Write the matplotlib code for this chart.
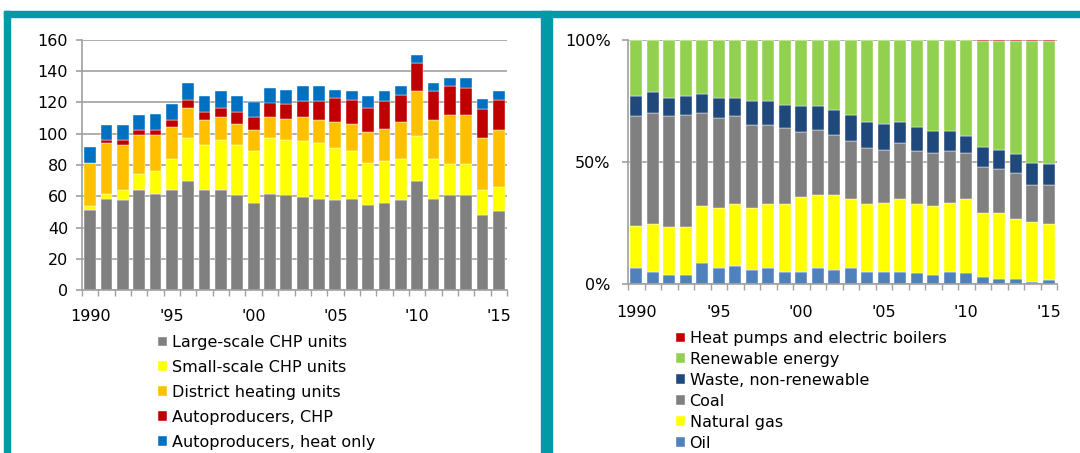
import numpy as np
import matplotlib.pyplot as plt
from matplotlib.patches import Rectangle

# years and tick labels
years = list(range(1990, 2016))
tick_pos = [0, 5, 10, 15, 20, 25]
tick_lab = ['1990', "'95", "'00", "'05", "'10", "'15"]

# left chart, values per source
large_chp = [51.3, 58.4, 57.3, 63.7, 61.6, 63.7, 69.9, 63.7, 63.7, 60.5, 55.4, 61.6, 60.5,
             59.5, 58.4, 57.3, 58.4, 54.3, 55.4, 57.3, 69.9, 58.4, 60.5, 60.5, 48.1, 50.3]
small_chp = [2.4, 3.2, 6.4, 10.3, 14.5, 19.9, 27.4, 29.3, 32.6, 32.5, 33.4, 35.7, 35.8,
             35.7, 35.7, 33.6, 30.4, 27.2, 27.2, 26.3, 28.5, 25.2, 19.9, 19.9, 15.6, 15.6]
district = [27.6, 32.5, 29.3, 25.0, 22.9, 20.8, 19.5, 15.7, 14.3, 13.3, 13.7, 13.3, 13.2,
            15.4, 14.6, 16.7, 17.5, 19.7, 20.7, 24.0, 28.9, 25.1, 31.3, 31.3, 33.4, 36.6]
auto_chp = [0.3, 2.2, 3.3, 3.5, 3.5, 4.3, 5.1, 5.1, 6.2, 7.5, 8.1, 9.4, 9.4,
            10.5, 12.4, 15.4, 15.6, 15.6, 17.8, 17.5, 17.7, 18.6, 18.8, 17.7, 18.6, 19.4]
auto_heat = [10.2, 9.2, 9.2, 9.2, 10.2, 10.2, 10.7, 10.5, 10.5, 10.5, 9.4, 9.4, 9.4,
             9.4, 9.4, 5.3, 5.4, 7.5, 6.2, 5.4, 5.4, 5.3, 5.1, 6.2, 6.4, 5.4]

# right chart, shares in %
oil = [6.6, 5.1, 3.7, 3.7, 8.7, 6.6, 7.4, 5.9, 6.6, 5.1, 5.1, 6.6, 5.9,
       6.6, 5.1, 5.1, 5.1, 4.4, 3.7, 5.1, 4.4, 3.0, 2.2, 2.2, 0.8, 1.6]
gas = [17.3, 19.6, 19.5, 19.5, 23.3, 24.5, 25.3, 25.2, 26.1, 27.6, 30.4, 29.7, 30.4,
       28.2, 27.6, 28.2, 29.7, 28.3, 28.3, 28.2, 30.4, 26.1, 26.9, 24.6, 24.6, 23.1]
coal = [44.8, 45.4, 45.5, 46.1, 38.1, 36.8, 36.0, 34.1, 32.5, 31.1, 26.8, 26.7, 24.6,
        23.8, 23.2, 21.8, 23.0, 21.7, 21.7, 21.1, 18.9, 18.9, 18.0, 18.7, 15.2, 15.9]
waste = [8.5, 8.7, 7.7, 7.9, 7.9, 8.5, 7.7, 9.8, 9.8, 9.7, 10.7, 10.0, 10.5,
         10.7, 10.6, 10.6, 8.7, 9.8, 9.1, 8.4, 7.0, 8.3, 8.0, 7.9, 9.1, 8.6]
renew = [22.8, 21.2, 23.6, 22.8, 22.0, 23.6, 23.6, 25.0, 25.0, 26.5, 27.0, 27.0, 28.6,
         30.7, 33.5, 34.3, 33.5, 35.8, 37.2, 37.2, 39.3, 43.2, 44.4, 46.1, 49.8, 50.3]
heat_pumps = [0, 0, 0, 0, 0, 0, 0, 0, 0, 0, 0, 0, 0,
              0, 0, 0, 0, 0, 0, 0, 0, 0.5, 0.5, 0.5, 0.5, 0.5]

left_names = ['Large-scale CHP units', 'Small-scale CHP units', 'District heating units',
              'Autoproducers, CHP', 'Autoproducers, heat only']
left_cols = ['#808080', '#FFFF00', '#FFC000', '#C00000', '#0070C0']
right_names = ['Oil', 'Natural gas', 'Coal', 'Waste, non-renewable', 'Renewable energy',
               'Heat pumps and electric boilers']
right_cols = ['#4F81BD', '#FFFF00', '#808080', '#1F497D', '#92D050', '#C00000']

W, H = 1080, 453
plt.rcParams['font.family'] = 'DejaVu Sans'
fig = plt.figure(figsize=(W / 100, H / 100), dpi=100)
teal = '#0099A6'
grid_c = '#A0A0A0'
fs = 11.5


def px_axes(x0, y0, x1, y1):
    return fig.add_axes([x0 / W, 1 - y1 / H, (x1 - x0) / W, (y1 - y0) / H])


def style(ax, xpad, ypad):
    for s in ['top', 'right']:
        ax.spines[s].set_visible(False)
    for s in ['left', 'bottom']:
        ax.spines[s].set_color(grid_c)
        ax.spines[s].set_linewidth(1.2)
    ax.set_xlim(-0.5, len(years) - 0.5)
    ax.set_xticks(tick_pos)
    ax.set_xticklabels(tick_lab, fontsize=fs)
    ax.set_xticks(np.arange(-0.5, len(years)), minor=True)
    ax.tick_params(axis='x', which='major', length=0, pad=xpad)
    ax.tick_params(axis='x', which='minor', length=4, color=grid_c, width=1)
    ax.tick_params(axis='y', length=4, color=grid_c, width=1.2, labelsize=fs, pad=ypad)
    ax.yaxis.grid(True, color=grid_c, linewidth=1.2)
    ax.set_axisbelow(True)


x = np.arange(len(years))

# left panel
ax1 = px_axes(82, 40, 507, 290)
bottom = np.zeros(len(years))
left_bars = []
for vals, name, col in zip([large_chp, small_chp, district, auto_chp, auto_heat], left_names, left_cols):
    b = ax1.bar(x, vals, width=0.72, bottom=bottom, color=col, label=name,
                edgecolor='white', linewidth=0.3)
    left_bars.append(b)
    bottom += np.array(vals)
ax1.set_ylim(0, 160)
ax1.set_yticks(range(0, 161, 20))
style(ax1, 13.5, 6)

# right panel
ax2 = px_axes(628, 40, 1057, 284)
bottom = np.zeros(len(years))
right_bars = []
for vals, name, col in zip([oil, gas, coal, waste, renew, heat_pumps], right_names, right_cols):
    b = ax2.bar(x, vals, width=0.71, bottom=bottom, color=col, label=name,
                edgecolor='white', linewidth=0.3)
    right_bars.append(b)
    bottom += np.array(vals)
ax2.set_ylim(0, 100)
ax2.set_yticks([0, 50, 100])
ax2.set_yticklabels(['0%', '50%', '100%'])
style(ax2, 15, 8.5)

# legends
fig.legend(left_bars, left_names, loc='upper left', bbox_to_anchor=(158 / W, 1 - 335 / H),
           frameon=False, fontsize=fs, handlelength=0.55, handleheight=0.55,
           handletextpad=0.3, labelspacing=0.62, borderpad=0, borderaxespad=0)
fig.legend(right_bars[::-1], right_names[::-1], loc='upper left', bbox_to_anchor=(676 / W, 1 - 331 / H),
           frameon=False, fontsize=fs, handlelength=0.55, handleheight=0.55,
           handletextpad=0.3, labelspacing=0.37, borderpad=0, borderaxespad=0)

# teal frame
for (rx, ry, rw, rh) in [(4, 11, W - 4, 6), (4, 11, 6, H), (541, 11, 11, H)]:
    fig.add_artist(Rectangle((rx / W, 1 - (ry + rh) / H), rw / W, rh / H,
                             transform=fig.transFigure, color=teal, zorder=10))

fig.savefig('out.png', dpi=100)
